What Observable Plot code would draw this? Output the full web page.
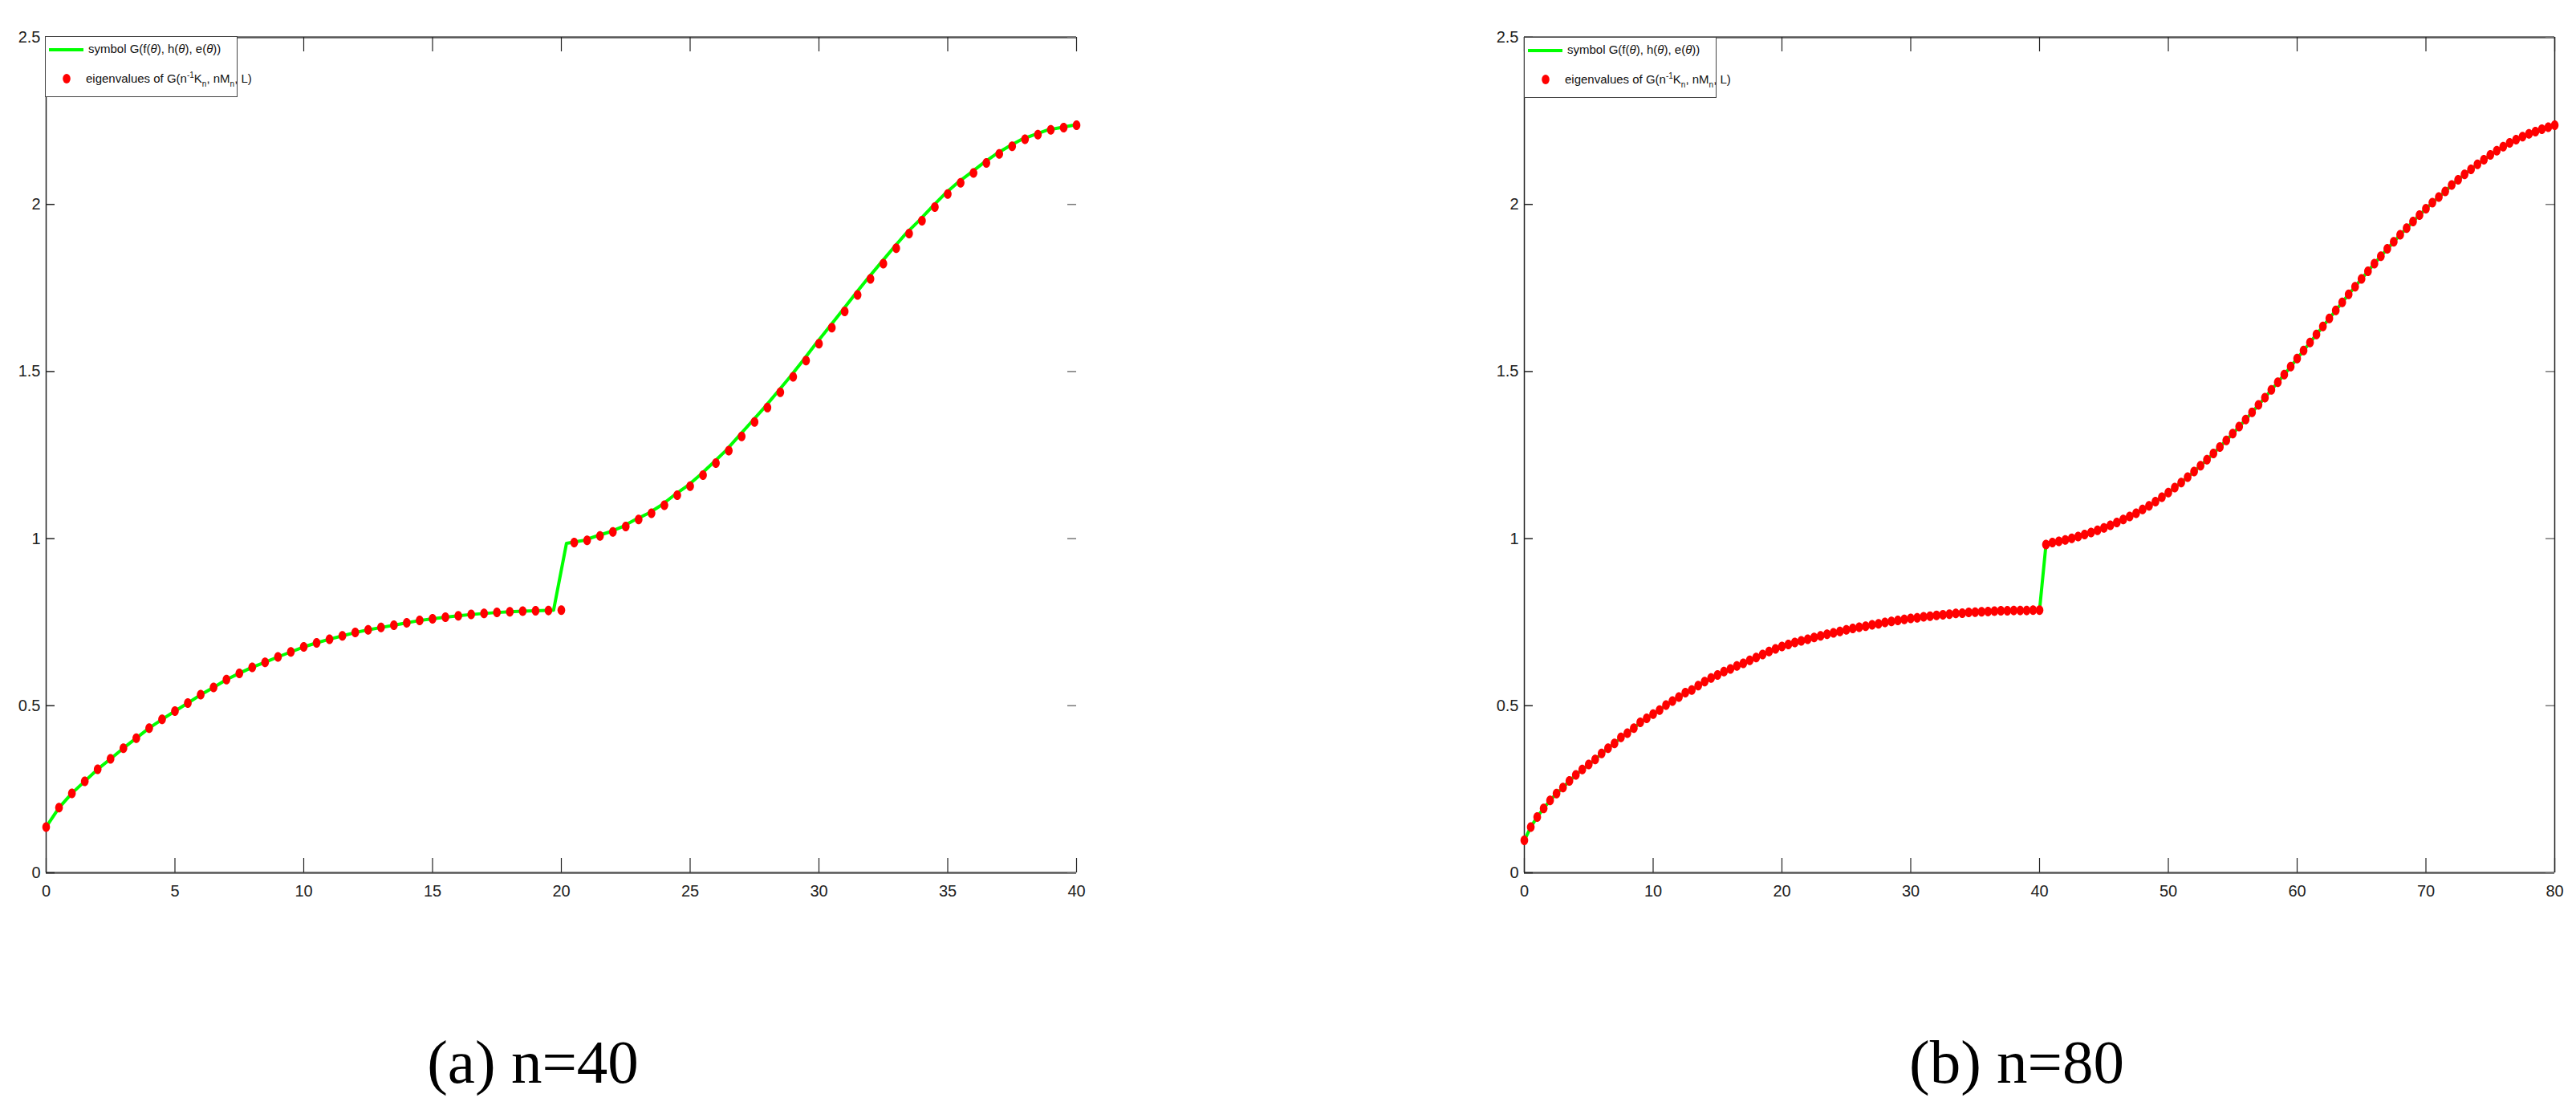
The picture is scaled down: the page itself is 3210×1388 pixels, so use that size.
<!DOCTYPE html>
<html>
<head>
<meta charset="utf-8">
<script src="https://cdn.jsdelivr.net/npm/d3@7"></script>
<script src="https://cdn.jsdelivr.net/npm/@observablehq/plot@0.6"></script>
<style>
  html, body { margin: 0; padding: 0; background: #fff; }
  body { width: 3210px; height: 1388px; position: relative; overflow: hidden; }
  .panel { position: absolute; top: 0; }
  .legend { position: absolute; background: #fff; border: 1.5px solid #444; box-sizing: border-box;
            font-family: 'Liberation Sans Narrow', 'Liberation Sans', Arial, sans-serif; font-size: 15px; color: #111; }
  .legend .row { position: absolute; white-space: nowrap; }
  .legend sup, .legend sub { font-size: 10px; }
  .legend sup { vertical-align: 6px; }
  .legend sub { vertical-align: -5px; }
  .caption { position: absolute; font-family: 'Liberation Serif', 'DejaVu Serif', serif; font-size: 77px; color: #000;
             text-align: center; white-space: nowrap; }
</style>
</head>
<body>
<div id="panelA" class="panel" style="left:0px"></div>
<div id="panelB" class="panel" style="left:1842px"></div>
<div class="caption" style="left:464px; width:400px; top:1279px">(a) n=40</div>
<div class="caption" style="left:2313px; width:400px; top:1279px">(b) n=80</div>
<script>
// ---------------- data ----------------
const yTicks = [0, 0.5, 1, 1.5, 2, 2.5];
const xTicksA = [0, 5, 10, 15, 20, 25, 30, 35, 40];
const xTicksB = [0, 10, 20, 30, 40, 50, 60, 70, 80];

// n = 40 : eigenvalues, at x = 0, 0.5, ..., 40
const eigA = [
  0.137, 0.195, 0.238, 0.274, 0.310, 0.341, 0.373, 0.403, 0.433, 0.459,
  0.484, 0.508, 0.533, 0.555, 0.578, 0.597, 0.615, 0.630, 0.646, 0.661,
  0.676, 0.688, 0.699, 0.709, 0.719, 0.727, 0.734, 0.741, 0.748, 0.755,
  0.760, 0.765, 0.769, 0.773, 0.776, 0.779, 0.781, 0.783, 0.784, 0.785,
  0.786,
  0.988, 0.995, 1.008, 1.020, 1.036, 1.057, 1.076, 1.100, 1.130, 1.157,
  1.190, 1.226, 1.263, 1.306, 1.349, 1.392, 1.438, 1.484, 1.533, 1.583,
  1.631, 1.680, 1.729, 1.777, 1.823, 1.869, 1.913, 1.951, 1.992, 2.031,
  2.065, 2.094, 2.124, 2.151, 2.174, 2.195, 2.209, 2.223, 2.230, 2.237
];
// n = 40 : symbol curve (green) sample positions and values
const symA_x = [
  0, 0.5, 1, 1.5, 2, 2.5, 3, 3.5, 4, 4.5, 5, 5.5, 6, 6.5, 7, 7.5, 8, 8.5, 9, 9.5,
  10, 10.5, 11, 11.5, 12, 12.5, 13, 13.5, 14, 14.5, 15, 15.5, 16, 16.5, 17, 17.5, 18, 18.5, 19, 19.7,
  20.2, 20.88, 21.38, 21.88, 22.38, 22.88, 23.38, 23.88, 24.38, 24.88, 25.38, 25.88, 26.38, 26.88,
  27.38, 27.88, 28.38, 28.88, 29.38, 29.88, 30.38, 30.88, 31.38, 31.88, 32.38, 32.88, 33.38, 33.88,
  34.38, 34.88, 35.38, 35.88, 36.38, 36.88, 37.38, 37.88, 38.38, 38.88, 39.38, 39.88, 40
];
const symA_y = [
  0.137, 0.195, 0.238, 0.274, 0.310, 0.341, 0.373, 0.403, 0.433, 0.459,
  0.484, 0.508, 0.533, 0.555, 0.578, 0.597, 0.615, 0.630, 0.646, 0.661,
  0.676, 0.688, 0.699, 0.709, 0.719, 0.727, 0.734, 0.741, 0.748, 0.755,
  0.760, 0.765, 0.769, 0.773, 0.776, 0.779, 0.781, 0.783, 0.784, 0.786,
  0.986, 0.995, 1.008, 1.020, 1.036, 1.057, 1.076, 1.100, 1.130, 1.157,
  1.190, 1.226, 1.263, 1.306, 1.349, 1.392, 1.438, 1.484, 1.533, 1.583,
  1.631, 1.680, 1.729, 1.777, 1.823, 1.869, 1.913, 1.951, 1.992, 2.031,
  2.065, 2.094, 2.124, 2.151, 2.174, 2.195, 2.209, 2.223, 2.230, 2.237, 2.239
];

// n = 80 : eigenvalues, at x = 0, 0.5, ..., 80
const eigB = [
  0.097, 0.137, 0.167, 0.193, 0.217, 0.237, 0.255, 0.275, 0.293, 0.309,
  0.324, 0.339, 0.357, 0.373, 0.387, 0.405, 0.418, 0.433, 0.450, 0.462,
  0.475, 0.487, 0.502, 0.514, 0.526, 0.539, 0.547, 0.560, 0.572, 0.583,
  0.592, 0.602, 0.610, 0.619, 0.627, 0.636,
  0.644, 0.653, 0.662, 0.670, 0.677, 0.683, 0.689, 0.694, 0.699, 0.704,
  0.709, 0.714, 0.718, 0.722, 0.727, 0.731, 0.735, 0.738, 0.742, 0.745,
  0.749, 0.752, 0.755, 0.758, 0.761, 0.763, 0.766, 0.768, 0.770, 0.772,
  0.774, 0.776, 0.777, 0.779, 0.780, 0.781, 0.782, 0.783, 0.784, 0.784,
  0.785, 0.785, 0.785, 0.786, 0.786,
  0.982, 0.988, 0.992, 0.996, 1.001, 1.006, 1.012, 1.018, 1.025, 1.032,
  1.040, 1.048, 1.057, 1.066, 1.076, 1.087, 1.098, 1.111, 1.124, 1.138,
  1.153, 1.168, 1.184, 1.201, 1.218, 1.236, 1.255, 1.274, 1.294, 1.314,
  1.335, 1.356, 1.378, 1.400, 1.422, 1.445, 1.468, 1.491, 1.515, 1.539,
  1.563, 1.587, 1.611, 1.635, 1.659, 1.683, 1.707, 1.731, 1.754, 1.777,
  1.800, 1.823, 1.845, 1.867, 1.888, 1.909, 1.929, 1.949, 1.968, 1.987,
  2.005, 2.022, 2.039, 2.058, 2.074, 2.090, 2.105, 2.120, 2.134, 2.148,
  2.161, 2.173, 2.184, 2.194, 2.203, 2.211, 2.218, 2.225, 2.231, 2.237
];

// ---------------- drawing ----------------
const ellipse = {
  draw(ctx, size) {
    const rx = 4.8, ry = 6.0, k = 0.5523;
    ctx.moveTo(rx, 0);
    ctx.bezierCurveTo(rx, k * ry, k * rx, ry, 0, ry);
    ctx.bezierCurveTo(-k * rx, ry, -rx, k * ry, -rx, 0);
    ctx.bezierCurveTo(-rx, -k * ry, -k * rx, -ry, 0, -ry);
    ctx.bezierCurveTo(k * rx, -ry, rx, -k * ry, rx, 0);
    ctx.closePath();
  }
};

function panel({width, marginRight, xDomain, xTicks, dots, lineData, rightBorder}) {
  const height = 1140, marginTop = 46, marginBottom = 53, marginLeft = 57;
  const plotW = width - marginLeft - marginRight;
  const plotH = height - marginTop - marginBottom;
  const tickColor = "#222";
  const marks = [
    Plot.axisX(xTicks, {tickSize: 0, tickPadding: 15, label: null, fill: "#222"}),
    Plot.axisY(yTicks, {tickSize: 0, tickPadding: 7, label: null, fill: "#222", tickFormat: d => String(d)}),
    Plot.ruleY([0], {stroke: "#555", strokeWidth: 2.5}),
    Plot.ruleY([2.5], {stroke: "#555", strokeWidth: 2.5}),
    Plot.ruleX([0], {stroke: "#222", strokeWidth: 1.5}),
    Plot.tickX(xTicks, {x: d => d, insetTop: plotH - 18, stroke: tickColor, strokeWidth: 1.2}),
    Plot.tickX(xTicks, {x: d => d, insetBottom: plotH - 18, stroke: tickColor, strokeWidth: 1.2}),
    Plot.tickY(yTicks, {y: d => d, insetRight: plotW - 11, stroke: tickColor, strokeWidth: 1.5}),
    Plot.tickY(yTicks, {y: d => d, insetLeft: plotW - 11, stroke: "#777", strokeWidth: 1.5}),
  ];
  if (rightBorder) marks.push(Plot.ruleX([xDomain[1]], {stroke: "#222", strokeWidth: 1.5}));
  marks.push(
    Plot.line(lineData, {x: "x", y: "y", stroke: "#00ff00", strokeWidth: 4, curve: "linear"}),
    Plot.dot(dots, {x: "x", y: "y", fill: "#ff0000", stroke: "none", symbol: ellipse, r: 5})
  );
  return Plot.plot({
    width, height, marginTop, marginBottom, marginLeft, marginRight,
    x: {domain: xDomain},
    y: {domain: [0, 2.5]},
    style: {
      fontFamily: "'Liberation Sans Narrow', 'Liberation Sans', Arial, sans-serif",
      fontSize: "20px", background: "#fff", overflow: "visible"
    },
    marks
  });
}

const dotsA = eigA.map((y, i) => ({x: i * 0.5, y}));
const lineA = symA_x.map((x, i) => ({x, y: symA_y[i]}));
const dotsB = eigB.map((y, i) => ({x: i * 0.5, y}));

document.getElementById("panelA").appendChild(panel({
  width: 1380, marginRight: 39, xDomain: [0, 40], xTicks: xTicksA,
  dots: dotsA, lineData: lineA, rightBorder: false
}));
document.getElementById("panelB").appendChild(panel({
  width: 1368, marginRight: 27, xDomain: [0, 80], xTicks: xTicksB,
  dots: dotsB, lineData: dotsB, rightBorder: true
}));

// legends
function legend(container, left, top, width) {
  const el = document.createElement("div");
  el.className = "legend";
  el.style.left = left + "px";
  el.style.top = top + "px";
  el.style.width = width + "px";
  el.style.height = "76px";
  el.innerHTML = `
    <svg width="60" height="76" style="position:absolute;left:0;top:0">
      <line x1="4" x2="47" y1="16" y2="16" stroke="#00ff00" stroke-width="4"/>
      <ellipse cx="26" cy="52" rx="4.8" ry="6" fill="#ff0000"/>
    </svg>
    <div class="row" style="left:53px; top:6px">symbol G(f(<i>θ</i>), h(<i>θ</i>), e(<i>θ</i>))</div>
    <div class="row" style="left:50px; top:42px">eigenvalues of G(n<sup>-1</sup>K<sub>n</sub>, nM<sub>n</sub>, L)</div>`;
  container.appendChild(el);
}
legend(document.getElementById("panelA"), 56, 45, 240);
legend(document.getElementById("panelB"), 57, 46, 240);
</script>
</body>
</html>
